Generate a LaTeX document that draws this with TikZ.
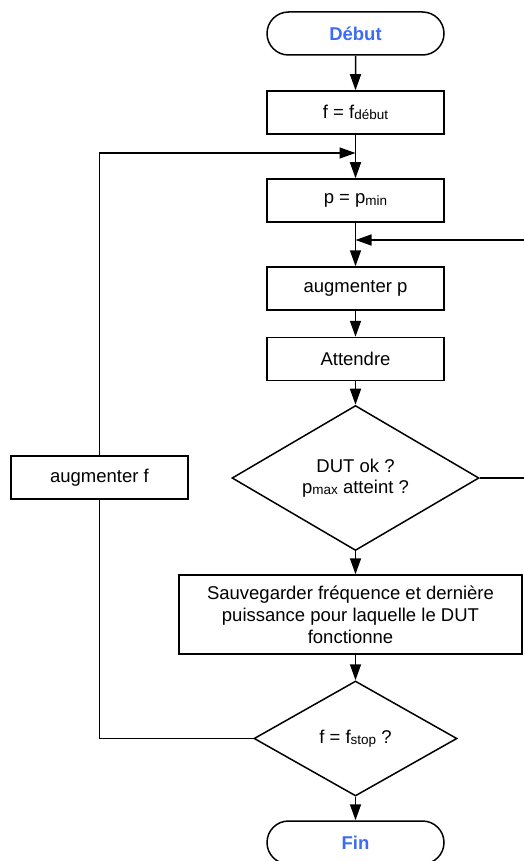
\documentclass[tikz,border=0pt]{standalone}
\usepackage{fontspec}
\setmainfont{Liberation Sans}
\usetikzlibrary{shapes.geometric,shapes.misc,arrows.meta}
\definecolor{termblue}{RGB}{60,108,244}
\newcommand\sbs[1]{\raisebox{-1.5pt}{\fontsize{13.5}{13.5}\selectfont #1}}
\begin{document}
\begin{tikzpicture}[x=1pt,y=-1pt,
  every node/.style={font=\fontsize{18.5}{22}\selectfont},
  base/.style={draw=black,line width=1.5pt,inner sep=0pt},
  procbox/.style={base,rectangle,minimum width=177pt,minimum height=43pt},
  termbox/.style={base,rounded rectangle,minimum width=177pt,minimum height=43pt,
     text=termblue,font=\fontsize{18.5}{22}\selectfont\bfseries},
  decbox/.style={base,diamond,align=center},
  conn/.style={line width=1.5pt,-{Triangle[width=11pt,length=16pt]}},
  plain/.style={line width=1.5pt}]
\useasboundingbox (0,0) rectangle (523,861);
\node[termbox] (start) at (355.5,33.5) {Début};
\node[procbox] (finit) at (355.5,112.5) {f = f\sbs{début}};
\node[procbox] (pinit) at (355.5,200.5) {p = p\sbs{min}};
\node[procbox] (incp) at (355.5,288.5) {augmenter p};
\node[procbox] (wait) at (355.5,359) {Attendre};
\node[decbox,minimum width=247pt,minimum height=140pt] (dut) at (355.5,478)
  {DUT ok ?\\[-1pt]p\sbs{max} atteint ?};
\node[procbox,minimum width=343pt,minimum height=79pt,align=center] (save) at (350.5,614.5)
  {Sauvegarder fréquence et dernière\\puissance pour laquelle le DUT\\fonctionne};
\node[decbox,minimum width=203pt,minimum height=115pt] (fstop) at (355.5,738.5)
  {f = f\sbs{stop} ?};
\node[termbox] (end) at (355.5,842.5) {Fin};
\node[procbox] (incf) at (99.5,477.5) {augmenter f};

\coordinate (j2) at (355.5,153);
\coordinate (j1) at (355.5,240);
\coordinate (r1) at (545,478);
\coordinate (r2) at (545,240);
\coordinate (l1) at (99.5,738.5);
\coordinate (l2) at (99.5,153);

\draw[conn] (start) -- (finit);
\draw[conn] (finit) -- (pinit);
\draw[conn] (pinit) -- (incp);
\draw[conn] (incp) -- (wait);
\draw[conn] (wait) -- (dut);
\draw[conn] (dut.south) -- (dut.south |- save.north);
\draw[conn] (fstop.north |- save.south) -- (fstop.north);
\draw[conn] (fstop) -- (end);
\draw[conn] (dut.east) -- (r1) -- (r2) -- (j1);
\draw[plain] (fstop.west) -- (l1) -- (incf.south);
\draw[conn] (incf.north) -- (l2) -- (j2);
\end{tikzpicture}
\end{document}
